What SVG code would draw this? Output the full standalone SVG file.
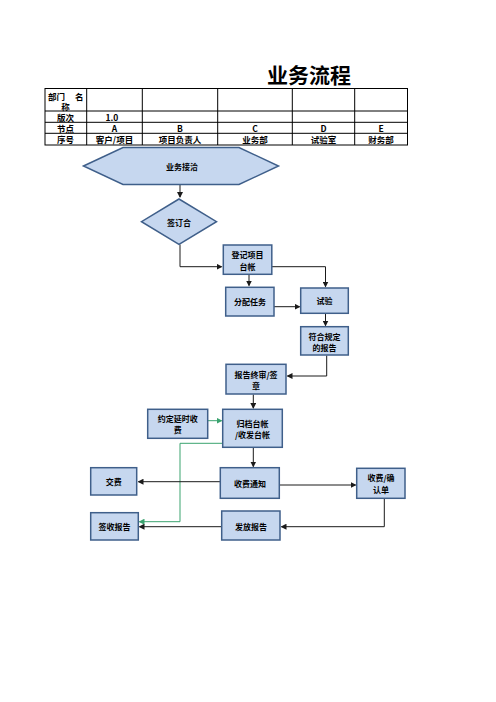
<svg xmlns="http://www.w3.org/2000/svg" width="496" height="702" viewBox="0 0 496 702">
<style>
.t{font-family:"Noto Sans CJK SC","Liberation Sans",sans-serif;font-weight:bold;fill:#000}
.tb{font-size:8.5px;text-anchor:middle;dominant-baseline:central}
.nd{fill:#c6d7ef;stroke:#3f5f8a;stroke-width:1.5}
.lb{font-size:8px;text-anchor:middle;dominant-baseline:central}
.c{fill:none;stroke:#1a1a1a;stroke-width:1}
.g{fill:none;stroke:#3aa36f;stroke-width:1}
.grid{stroke:#000;stroke-width:1;fill:none}
</style>
<defs>
<marker id="a" markerWidth="6" markerHeight="6" refX="5" refY="3" orient="auto" markerUnits="userSpaceOnUse"><path d="M0,0 L6,3 L0,6 Z" fill="#1a1a1a"/></marker>
<marker id="ag" markerWidth="6" markerHeight="6" refX="5" refY="3" orient="auto" markerUnits="userSpaceOnUse"><path d="M0,0 L6,3 L0,6 Z" fill="#3aa36f"/></marker>
</defs>
<rect width="496" height="702" fill="#fff"/>
<text class="t" x="309" y="83" font-size="21" text-anchor="middle">业务流程</text>
<g id="table">
<rect class="grid" x="45" y="88.5" width="362.5" height="56.5"/>
<line class="grid" x1="45" y1="111" x2="407.5" y2="111"/>
<line class="grid" x1="45" y1="122.3" x2="407.5" y2="122.3"/>
<line class="grid" x1="45" y1="133.3" x2="407.5" y2="133.3"/>
<line class="grid" x1="86.7" y1="88.5" x2="86.7" y2="145"/>
<line class="grid" x1="142.3" y1="88.5" x2="142.3" y2="145"/>
<line class="grid" x1="217.7" y1="88.5" x2="217.7" y2="145"/>
<line class="grid" x1="292.3" y1="88.5" x2="292.3" y2="145"/>
<line class="grid" x1="354.7" y1="88.5" x2="354.7" y2="145"/>
<text class="t" x="48" y="96" font-size="8.5" dominant-baseline="central">部门</text>
<text class="t" x="75" y="96" font-size="8.5" dominant-baseline="central">名</text>
<text class="t tb" x="65.5" y="105.5">称</text>
<text class="t tb" x="65.5" y="116.7">版次</text>
<text class="t tb" x="112" y="116.7">1.0</text>
<text class="t tb" x="65.5" y="127.8">节点</text>
<text class="t tb" x="114.5" y="127.8">A</text>
<text class="t tb" x="180" y="127.8">B</text>
<text class="t tb" x="255" y="127.8">C</text>
<text class="t tb" x="323.5" y="127.8">D</text>
<text class="t tb" x="381" y="127.8">E</text>
<text class="t tb" x="65.5" y="139.2">序号</text>
<text class="t tb" x="114.5" y="139.2">客户/项目</text>
<text class="t tb" x="180" y="139.2">项目负责人</text>
<text class="t tb" x="255" y="139.2">业务部</text>
<text class="t tb" x="323.5" y="139.2">试验室</text>
<text class="t tb" x="381" y="139.2">财务部</text>
</g>
<g id="connectors">
<path class="c" d="M180,185 V197" marker-end="url(#a)"/>
<path class="c" d="M180,244.5 V266.7 H221.5" marker-end="url(#a)"/>
<path class="c" d="M272,266.7 H325.5 V286.5" marker-end="url(#a)"/>
<path class="c" d="M249,274.5 V285.5" marker-end="url(#a)"/>
<path class="c" d="M274,306.7 H299.5" marker-end="url(#a)"/>
<path class="c" d="M325.5,313.5 V325.5" marker-end="url(#a)"/>
<path class="c" d="M326.7,355.5 V376 H287.5" marker-end="url(#a)"/>
<path class="c" d="M253.3,394.5 V408" marker-end="url(#a)"/>
<path class="g" d="M208,420.7 H221.5" marker-end="url(#ag)"/>
<path class="g" d="M223,443.3 H180 V521.7 H139.5" marker-end="url(#ag)"/>
<path class="c" d="M253.3,447.5 V466.5" marker-end="url(#a)"/>
<path class="c" d="M220.5,481.7 H138.5" marker-end="url(#a)"/>
<path class="c" d="M279.5,485 H355.5" marker-end="url(#a)"/>
<path class="c" d="M384.3,498.5 V526.7 H281.5" marker-end="url(#a)"/>
<path class="c" d="M222,526.7 H139.5" marker-end="url(#a)"/>
</g>
<g id="n-hex"><polygon class="nd" points="83.5,166 123,147.5 239,147.5 278.5,166 239,184.5 123,184.5"/><text class="t lb" x="182" y="166">业务接洽</text></g>
<g id="n-diamond"><polygon class="nd" points="179,199 216.5,221.7 179,244.3 141.5,221.7"/><text class="t lb" x="179" y="222" font-size="7">签订合</text></g>
<g id="n-dengji"><rect class="nd" x="223.3" y="245" width="48.5" height="29.3"/><text class="t lb" x="247.5" y="254.5">登记项目</text><text class="t lb" x="247.5" y="266">台帐</text></g>
<g id="n-fenpei"><rect class="nd" x="225.7" y="287.3" width="48.3" height="28.7"/><text class="t lb" x="250" y="301.7">分配任务</text></g>
<g id="n-shiyan"><rect class="nd" x="300.7" y="288" width="47.6" height="25.3"/><text class="t lb" x="324.5" y="300.7">试验</text></g>
<g id="n-fuhe"><rect class="nd" x="300.7" y="326.7" width="47.6" height="28.3"/><text class="t lb" x="324.5" y="336">符合规定</text><text class="t lb" x="324.5" y="347">的报告</text></g>
<g id="n-zhongshen"><rect class="nd" x="226" y="364.3" width="60" height="29.7"/><text class="t lb" x="256" y="374">报告终审/签</text><text class="t lb" x="256" y="385.5">章</text></g>
<g id="n-yueding"><rect class="nd" x="147.7" y="409.3" width="60" height="29"/><text class="t lb" x="177.7" y="418.5">约定延时收</text><text class="t lb" x="177.7" y="429.5">费</text></g>
<g id="n-guidang"><rect class="nd" x="222.7" y="409.3" width="59.6" height="38"/><text class="t lb" x="252.5" y="423">归档台帐</text><text class="t lb" x="252.5" y="434.5">/收发台帐</text></g>
<g id="n-jiaofei"><rect class="nd" x="90.7" y="467.7" width="46" height="27.3"/><text class="t lb" x="113.7" y="481.5">交费</text></g>
<g id="n-shoufei"><rect class="nd" x="220.3" y="467.7" width="59" height="30.6"/><text class="t lb" x="250" y="483">收费通知</text></g>
<g id="n-queren"><rect class="nd" x="356.7" y="468.3" width="48.3" height="30"/><text class="t lb" x="381" y="477.5">收费/确</text><text class="t lb" x="381" y="489">认单</text></g>
<g id="n-fafang"><rect class="nd" x="221.7" y="511" width="58.3" height="29"/><text class="t lb" x="251" y="526">发放报告</text></g>
<g id="n-qianshou"><rect class="nd" x="90.7" y="512.7" width="47.6" height="27.3"/><text class="t lb" x="114.5" y="526.7">签收报告</text></g>
</svg>
